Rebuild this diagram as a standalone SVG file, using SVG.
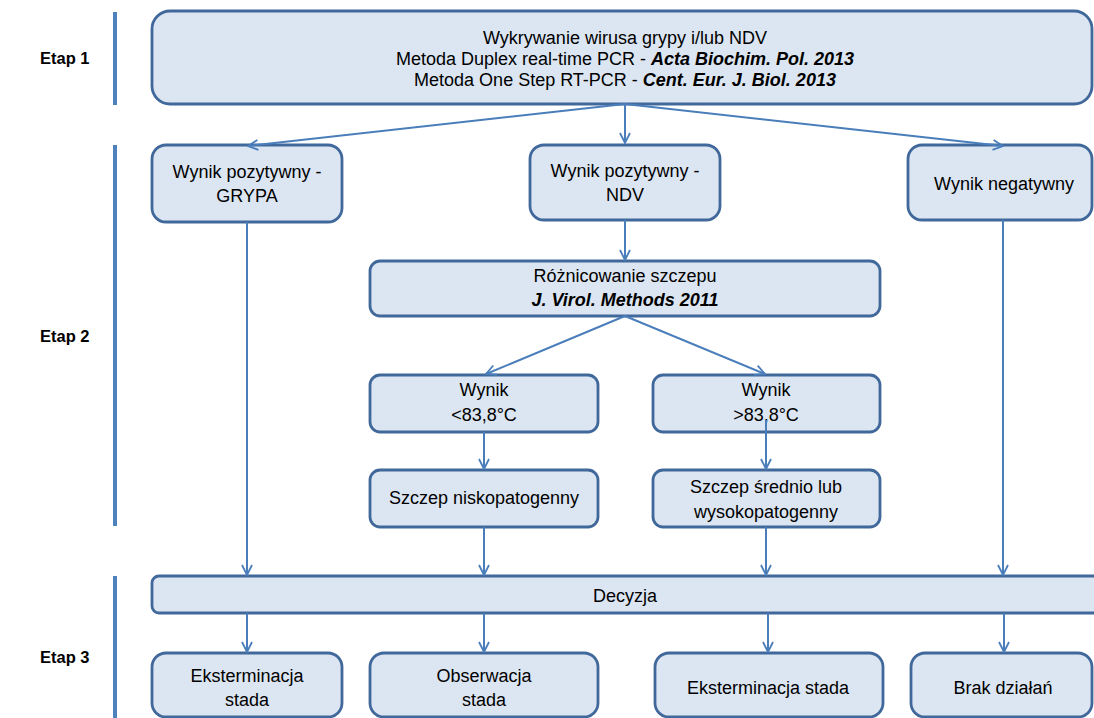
<svg xmlns="http://www.w3.org/2000/svg" width="1094" height="718" viewBox="0 0 1094 718">
<defs>
<marker id="arr" viewBox="0 0 12 12" refX="11" refY="6" markerWidth="12" markerHeight="12" markerUnits="userSpaceOnUse" orient="auto">
<polyline points="1,1 11,6 1,11" fill="none" stroke="#4A7EBB" stroke-width="1.8"/>
</marker>
</defs>
<style>
.box{fill:#DCE6F2;stroke:#41689B;stroke-width:2.8}
.t{font-family:"Liberation Sans",Arial,sans-serif;font-size:18px;fill:#000;text-anchor:middle}
.b{font-weight:bold;font-style:italic}
.lbl{font-family:"Liberation Sans",Arial,sans-serif;font-size:16.5px;font-weight:bold;fill:#000}
.bar{stroke:#4F81BD;stroke-width:4}
.c{stroke:#4A7EBB;stroke-width:2;fill:none;marker-end:url(#arr)}
</style>
<rect width="1094" height="718" fill="#fff"/>
<g id="stages">
<line class="bar" x1="115" y1="12" x2="115" y2="105"/>
<line class="bar" x1="115" y1="145" x2="115" y2="526"/>
<line class="bar" x1="115" y1="576" x2="115" y2="718"/>
<text class="lbl" x="40" y="64">Etap 1</text>
<text class="lbl" x="40" y="342">Etap 2</text>
<text class="lbl" x="40" y="663">Etap 3</text>
</g>
<g id="n-top">
<rect class="box" x="152" y="11" width="940" height="93" rx="18"/>
<text class="t" x="625" y="44">Wykrywanie wirusa grypy i/lub NDV</text>
<text class="t" x="625" y="65">Metoda Duplex real-time PCR - <tspan class="b">Acta Biochim. Pol. 2013</tspan></text>
<text class="t" x="625" y="86">Metoda One Step RT-PCR - <tspan class="b">Cent. Eur. J. Biol. 2013</tspan></text>
</g>
<g id="n-grypa">
<rect class="box" x="152" y="145" width="190" height="77" rx="14"/>
<text class="t" x="247" y="178">Wynik pozytywny -</text>
<text class="t" x="247" y="202">GRYPA</text>
</g>
<g id="n-ndv">
<rect class="box" x="530" y="145" width="190" height="75" rx="14"/>
<text class="t" x="625" y="177">Wynik pozytywny -</text>
<text class="t" x="625" y="201">NDV</text>
</g>
<g id="n-neg">
<rect class="box" x="908" y="145" width="184" height="75" rx="14"/>
<text class="t" x="1004" y="190">Wynik negatywny</text>
</g>
<g id="n-roz">
<rect class="box" x="370" y="261" width="510" height="55" rx="10"/>
<text class="t" x="625" y="282">Różnicowanie szczepu</text>
<text class="t b" x="625" y="306">J. Virol. Methods 2011</text>
</g>
<g id="n-low">
<rect class="box" x="370" y="375" width="228" height="57" rx="10"/>
<text class="t" x="484" y="396">Wynik</text>
<text class="t" x="484" y="421">&lt;83,8°C</text>
</g>
<g id="n-high">
<rect class="box" x="653" y="375" width="227" height="57" rx="10"/>
<text class="t" x="766" y="396">Wynik</text>
<text class="t" x="766" y="421">&gt;83,8°C</text>
</g>
<g id="n-nisko">
<rect class="box" x="370" y="470" width="228" height="57" rx="10"/>
<text class="t" x="484" y="504">Szczep niskopatogenny</text>
</g>
<g id="n-wysoko">
<rect class="box" x="653" y="470" width="227" height="57" rx="10"/>
<text class="t" x="766" y="493">Szczep średnio lub</text>
<text class="t" x="766" y="518">wysokopatogenny</text>
</g>
<g id="n-decyzja">
<rect class="box" x="152" y="576" width="950" height="37" rx="7"/>
<text class="t" x="625" y="602">Decyzja</text>
</g>
<g id="n-ekst1">
<rect class="box" x="152" y="653" width="190" height="64" rx="14"/>
<text class="t" x="247" y="682">Eksterminacja</text>
<text class="t" x="247" y="706">stada</text>
</g>
<g id="n-obs">
<rect class="box" x="370" y="653" width="228" height="64" rx="14"/>
<text class="t" x="484" y="682">Obserwacja</text>
<text class="t" x="484" y="706">stada</text>
</g>
<g id="n-ekst2">
<rect class="box" x="655" y="653" width="228" height="64" rx="14"/>
<text class="t" x="768" y="694">Eksterminacja stada</text>
</g>
<g id="n-brak">
<rect class="box" x="911" y="653" width="181" height="64" rx="14"/>
<text class="t" x="1003" y="694">Brak działań</text>
</g>
<g id="connectors">
<line class="c" x1="625" y1="104" x2="248" y2="146"/>
<line class="c" x1="625" y1="104" x2="625" y2="143"/>
<line class="c" x1="625" y1="104" x2="1003" y2="146"/>
<line class="c" x1="625" y1="220" x2="625" y2="260"/>
<line class="c" x1="625" y1="316" x2="486" y2="374"/>
<line class="c" x1="625" y1="316" x2="765" y2="374"/>
<line class="c" x1="484" y1="432" x2="484" y2="469"/>
<line class="c" x1="766" y1="420" x2="766" y2="469"/>
<line class="c" x1="247" y1="222" x2="247" y2="575"/>
<line class="c" x1="484" y1="527" x2="484" y2="575"/>
<line class="c" x1="766" y1="527" x2="766" y2="575"/>
<line class="c" x1="1003" y1="220" x2="1003" y2="575"/>
<line class="c" x1="247" y1="613" x2="247" y2="652"/>
<line class="c" x1="484" y1="613" x2="484" y2="652"/>
<line class="c" x1="768" y1="613" x2="768" y2="652"/>
<line class="c" x1="1004" y1="613" x2="1004" y2="652"/>
</g>
</svg>
